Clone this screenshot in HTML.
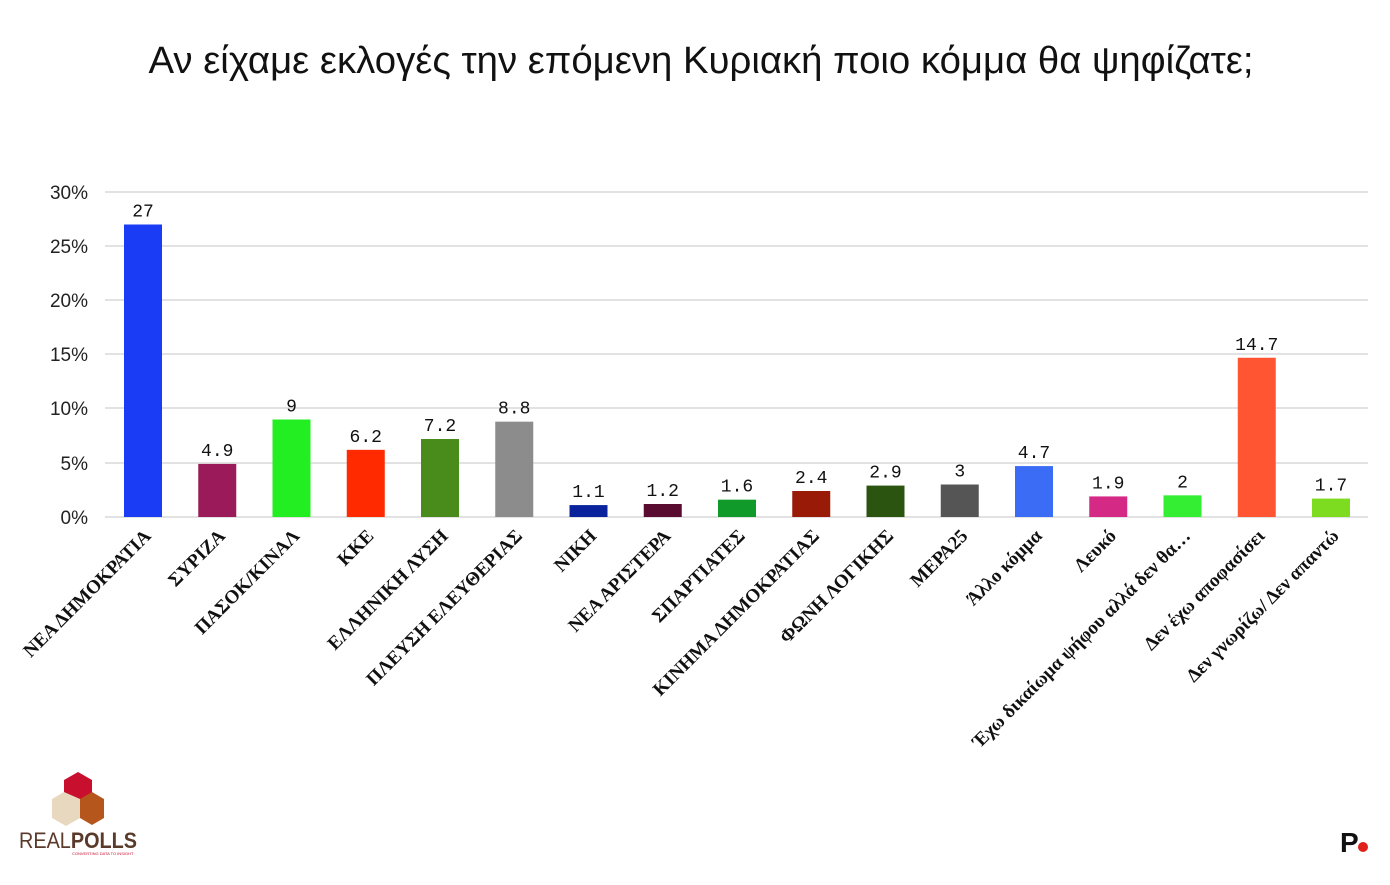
<!DOCTYPE html>
<html><head><meta charset="utf-8"><style>
html,body{margin:0;padding:0;background:#fff;}
svg{display:block;}
</style></head><body>
<svg width="1390" height="885" xmlns="http://www.w3.org/2000/svg">
<rect width="1390" height="885" fill="#fff"/>
<text x="701" y="73" text-anchor="middle" font-family="'Liberation Sans','DejaVu Sans',sans-serif" font-size="38" fill="#111" textLength="1105" lengthAdjust="spacingAndGlyphs">Αν είχαμε εκλογές την επόμενη Κυριακή ποιο κόμμα θα ψηφίζατε;</text>
<g stroke="#d9d9d9" stroke-width="1.5">
<line x1="105" x2="1368" y1="192" y2="192"/><line x1="105" x2="1368" y1="246" y2="246"/>
<line x1="105" x2="1368" y1="300" y2="300"/><line x1="105" x2="1368" y1="354" y2="354"/>
<line x1="105" x2="1368" y1="408" y2="408"/><line x1="105" x2="1368" y1="463" y2="463"/>
<line x1="105" x2="1368" y1="517" y2="517"/>
</g>
<g font-family="'Liberation Sans','DejaVu Sans',sans-serif" font-size="19" fill="#222" text-anchor="end">
<text x="88" y="199">30%</text><text x="88" y="253">25%</text><text x="88" y="307">20%</text>
<text x="88" y="361">15%</text><text x="88" y="415">10%</text><text x="88" y="470">5%</text><text x="88" y="524">0%</text>
</g>
<g id="bars"></g>
<g id="vals" font-family="'Liberation Mono','DejaVu Sans Mono',monospace" font-size="18" fill="#111" text-anchor="middle"></g>
<g id="labs" font-family="'Liberation Serif','DejaVu Serif',serif" font-weight="bold" font-size="19" fill="#111" text-anchor="end"></g>
<g>
<polygon points="78,772 92,780 92,800 78,808 64,800 64,780" fill="#c8102e"/>
<polygon points="92,792 104,799 104,818 92,825 80,818 80,799" fill="#b5561c"/>
<polygon points="64,792 80,799 80,818 66,826 52,818 52,799" fill="#e8d8bf"/>
<text x="19" y="848" font-family="'Liberation Sans',sans-serif" font-size="22" fill="#5a3a2a" textLength="118" lengthAdjust="spacingAndGlyphs">REAL<tspan font-weight="bold">POLLS</tspan></text>
<text x="72" y="855" font-family="'Liberation Sans',sans-serif" font-size="4" fill="#c8102e">CONVERTING DATA TO INSIGHT</text>
</g>
<text x="1340" y="852" font-family="'Liberation Sans',sans-serif" font-weight="bold" font-size="28" fill="#111">P</text>
<circle cx="1363" cy="847" r="5" fill="#e0201a"/>
</svg>
<script>
var d=[["ΝΕΑ ΔΗΜΟΚΡΑΤΙΑ",27,"#1a3cf5"],["ΣΥΡΙΖΑ",4.9,"#9b1b5a"],["ΠΑΣΟΚ/ΚΙΝΑΛ",9,"#22ee22"],["ΚΚΕ",6.2,"#ff2a00"],["ΕΛΛΗΝΙΚΗ ΛΥΣΗ",7.2,"#4a8c1c"],["ΠΛΕΥΣΗ ΕΛΕΥΘΕΡΙΑΣ",8.8,"#8c8c8c"],["ΝΙΚΗ",1.1,"#0a239c"],["ΝΕΑ ΑΡΙΣΤΕΡΑ",1.2,"#5a0c30"],["ΣΠΑΡΤΙΑΤΕΣ",1.6,"#0f9a2a"],["ΚΙΝΗΜΑ ΔΗΜΟΚΡΑΤΙΑΣ",2.4,"#9a1a08"],["ΦΩΝΗ ΛΟΓΙΚΗΣ",2.9,"#2a5410"],["ΜΕΡΑ25",3,"#555555"],["Άλλο κόμμα",4.7,"#3b6cf5"],["Λευκό",1.9,"#d42a86"],["Έχω δικαίωμα ψήφου αλλά δεν θα…",2,"#33ee33"],["Δεν έχω αποφασίσει",14.7,"#ff5533"],["Δεν γνωρίζω/ Δεν απαντώ",1.7,"#7ddc1f"]];
var ns="http://www.w3.org/2000/svg",B=document.getElementById("bars"),V=document.getElementById("vals"),L=document.getElementById("labs");
d.forEach(function(e,i){var cx=143+i*74.25,h=e[1]*325/30,y=517-h;
var r=document.createElementNS(ns,"rect");r.setAttribute("x",cx-19);r.setAttribute("y",y);r.setAttribute("width",38);r.setAttribute("height",h);r.setAttribute("fill",e[2]);B.appendChild(r);
var t=document.createElementNS(ns,"text");t.setAttribute("x",cx);t.setAttribute("y",y-8);t.textContent=String(e[1]);V.appendChild(t);
var l=document.createElementNS(ns,"text");var lx=cx+9,ly=537;l.setAttribute("x",lx);l.setAttribute("y",ly);l.setAttribute("transform","rotate(-45 "+lx+" "+ly+")");l.textContent=e[0];L.appendChild(l);});
</script>
</body></html>
